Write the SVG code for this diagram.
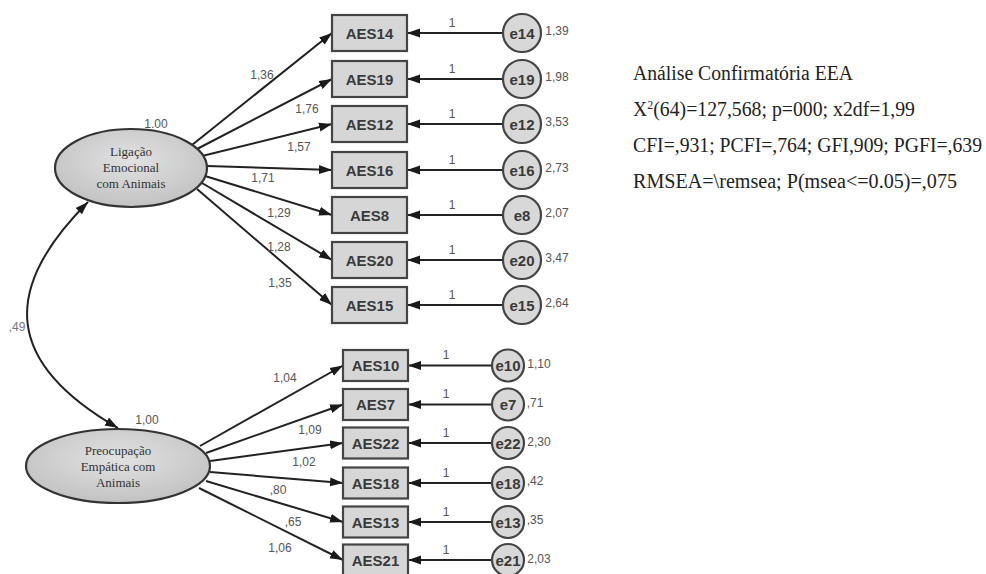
<svg xmlns="http://www.w3.org/2000/svg" width="986" height="574" viewBox="0 0 986 574">
<defs>
<marker id="ah" markerUnits="userSpaceOnUse" markerWidth="14" markerHeight="10" refX="13" refY="5" orient="auto-start-reverse" viewBox="0 0 14 10">
<path d="M0,0.5 L13,5 L0,9.5 z" fill="#1a1a1a"/>
</marker>
<radialGradient id="lg" cx="50%" cy="40%" r="60%">
<stop offset="0" stop-color="#e2e2e2"/>
<stop offset="1" stop-color="#c2c2c2"/>
</radialGradient>
<style>
.c{stroke:#222;stroke-width:2;fill:none;marker-end:url(#ah)}
.box{fill:#d6d6d6;stroke:#444;stroke-width:2.2}
.bt{font-family:"Liberation Sans",Arial,sans-serif;font-weight:bold;font-size:15px;fill:#3a3a3a;text-anchor:middle}
.err{fill:#d8d8d8;stroke:#444;stroke-width:2.2}
.et{font-family:"Liberation Sans",Arial,sans-serif;font-weight:bold;font-size:15px;fill:#3a3a3a;text-anchor:middle}
.lat{fill:url(#lg);stroke:#333;stroke-width:2.2}
.lt{font-family:"Liberation Serif","Times New Roman",serif;font-size:13px;fill:#333;text-anchor:middle}
.lab{font-family:"Liberation Sans",Arial,sans-serif;font-size:12px;fill:#555;text-anchor:middle}
.st{font-family:"Liberation Serif","Times New Roman",serif;font-size:20px;fill:#222}
</style>
</defs>
<rect width="986" height="574" fill="#fff"/>

<g id="connectors">
<!-- loadings factor 1 -->
<line class="c" x1="192" y1="145" x2="332" y2="33"/>
<line class="c" x1="197" y1="149" x2="332" y2="79"/>
<line class="c" x1="202" y1="156" x2="332" y2="124"/>
<line class="c" x1="207" y1="166" x2="332" y2="170"/>
<line class="c" x1="205" y1="176" x2="332" y2="215"/>
<line class="c" x1="202" y1="183" x2="332" y2="260"/>
<line class="c" x1="197" y1="189" x2="332" y2="305"/>
<!-- loadings factor 2 -->
<line class="c" x1="200" y1="446" x2="343" y2="365.5"/>
<line class="c" x1="206" y1="453" x2="343" y2="404.5"/>
<line class="c" x1="210" y1="461" x2="343" y2="443"/>
<line class="c" x1="210" y1="472" x2="343" y2="483"/>
<line class="c" x1="206" y1="481" x2="343" y2="522"/>
<line class="c" x1="199" y1="488" x2="343" y2="560"/>
<!-- error paths upper -->
<line class="c" x1="503" y1="33" x2="407" y2="33"/>
<line class="c" x1="503" y1="79" x2="407" y2="79"/>
<line class="c" x1="503" y1="124" x2="407" y2="124"/>
<line class="c" x1="503" y1="170" x2="407" y2="170"/>
<line class="c" x1="503" y1="215" x2="407" y2="215"/>
<line class="c" x1="503" y1="260" x2="407" y2="260"/>
<line class="c" x1="503" y1="305" x2="407" y2="305"/>
<!-- error paths lower -->
<line class="c" x1="492" y1="365.5" x2="408" y2="365.5"/>
<line class="c" x1="492" y1="404.5" x2="408" y2="404.5"/>
<line class="c" x1="492" y1="443" x2="408" y2="443"/>
<line class="c" x1="492" y1="483" x2="408" y2="483"/>
<line class="c" x1="492" y1="522" x2="408" y2="522"/>
<line class="c" x1="492" y1="560" x2="408" y2="560"/>
<!-- covariance -->
<path class="c" style="marker-start:url(#ah)" d="M88,202 C0,290 5,363 118,428"/>

<!-- labels -->
<g class="lab">
<text x="262" y="79">1,36</text>
<text x="307" y="113">1,76</text>
<text x="299" y="151">1,57</text>
<text x="263" y="182">1,71</text>
<text x="279" y="217">1,29</text>
<text x="279" y="251">1,28</text>
<text x="280" y="287">1,35</text>
<text x="156" y="128">1.00</text>
<text x="285" y="382">1,04</text>
<text x="310" y="434">1,09</text>
<text x="304" y="466">1,02</text>
<text x="278" y="494">,80</text>
<text x="293" y="526">,65</text>
<text x="280" y="552">1,06</text>
<text x="147" y="424">1,00</text>
<text x="17" y="331" fill="#777">,49</text>
<text x="452" y="27">1</text>
<text x="452" y="73">1</text>
<text x="452" y="118">1</text>
<text x="452" y="164">1</text>
<text x="452" y="209">1</text>
<text x="452" y="254">1</text>
<text x="452" y="299">1</text>
<text x="446" y="359">1</text>
<text x="446" y="398">1</text>
<text x="446" y="437">1</text>
<text x="446" y="477">1</text>
<text x="446" y="516">1</text>
<text x="446" y="554">1</text>
<text x="557" y="35">1,39</text>
<text x="557" y="81">1,98</text>
<text x="557" y="126">3,53</text>
<text x="557" y="172">2,73</text>
<text x="557" y="217">2,07</text>
<text x="557" y="262">3,47</text>
<text x="557" y="307">2,64</text>
<text x="539" y="368">1,10</text>
<text x="535" y="407">,71</text>
<text x="539" y="446">2,30</text>
<text x="535" y="485">,42</text>
<text x="535" y="524">,35</text>
<text x="539" y="563">2,03</text>
</g>
</g>

<g id="F1"><ellipse class="lat" cx="131" cy="168" rx="76" ry="39"/>
<text class="lt" x="131" y="156">Ligação</text><text class="lt" x="131" y="172">Emocional</text><text class="lt" x="131" y="188">com Animais</text></g>
<g id="F2"><ellipse class="lat" cx="118" cy="466" rx="92" ry="37"/>
<text class="lt" x="118" y="455">Preocupação</text><text class="lt" x="118" y="471">Empática com</text><text class="lt" x="118" y="487">Animais</text></g>

<g id="AES14"><rect class="box" x="332" y="15" width="75" height="36"/><text class="bt" x="369.5" y="38.5">AES14</text></g>
<g id="AES19"><rect class="box" x="332" y="61" width="75" height="36"/><text class="bt" x="369.5" y="84.5">AES19</text></g>
<g id="AES12"><rect class="box" x="332" y="106" width="75" height="36"/><text class="bt" x="369.5" y="129.5">AES12</text></g>
<g id="AES16"><rect class="box" x="332" y="152" width="75" height="36"/><text class="bt" x="369.5" y="175.5">AES16</text></g>
<g id="AES8"><rect class="box" x="332" y="197" width="75" height="36"/><text class="bt" x="369.5" y="220.5">AES8</text></g>
<g id="AES20"><rect class="box" x="332" y="242" width="75" height="36"/><text class="bt" x="369.5" y="265.5">AES20</text></g>
<g id="AES15"><rect class="box" x="332" y="287" width="75" height="36"/><text class="bt" x="369.5" y="310.5">AES15</text></g>

<g id="AES10"><rect class="box" x="343" y="350" width="65" height="31"/><text class="bt" x="375.5" y="371">AES10</text></g>
<g id="AES7"><rect class="box" x="343" y="389" width="65" height="31"/><text class="bt" x="375.5" y="410">AES7</text></g>
<g id="AES22"><rect class="box" x="343" y="427.5" width="65" height="31"/><text class="bt" x="375.5" y="448.5">AES22</text></g>
<g id="AES18"><rect class="box" x="343" y="467.5" width="65" height="31"/><text class="bt" x="375.5" y="488.5">AES18</text></g>
<g id="AES13"><rect class="box" x="343" y="506.5" width="65" height="31"/><text class="bt" x="375.5" y="527.5">AES13</text></g>
<g id="AES21"><rect class="box" x="343" y="544.5" width="65" height="31"/><text class="bt" x="375.5" y="565.5">AES21</text></g>

<g id="e14"><circle class="err" cx="522" cy="33" r="19"/><text class="et" x="522" y="38.5">e14</text></g>
<g id="e19"><circle class="err" cx="522" cy="79" r="19"/><text class="et" x="522" y="84.5">e19</text></g>
<g id="e12"><circle class="err" cx="522" cy="124" r="19"/><text class="et" x="522" y="129.5">e12</text></g>
<g id="e16"><circle class="err" cx="522" cy="170" r="19"/><text class="et" x="522" y="175.5">e16</text></g>
<g id="e8"><circle class="err" cx="522" cy="215" r="19"/><text class="et" x="522" y="220.5">e8</text></g>
<g id="e20"><circle class="err" cx="522" cy="260" r="19"/><text class="et" x="522" y="265.5">e20</text></g>
<g id="e15"><circle class="err" cx="522" cy="305" r="19"/><text class="et" x="522" y="310.5">e15</text></g>

<g id="e10"><circle class="err" cx="508" cy="365.5" r="16"/><text class="et" x="508" y="371">e10</text></g>
<g id="e7"><circle class="err" cx="508" cy="404.5" r="16"/><text class="et" x="508" y="410">e7</text></g>
<g id="e22"><circle class="err" cx="508" cy="443" r="16"/><text class="et" x="508" y="448.5">e22</text></g>
<g id="e18"><circle class="err" cx="508" cy="483" r="16"/><text class="et" x="508" y="488.5">e18</text></g>
<g id="e13"><circle class="err" cx="508" cy="522" r="16"/><text class="et" x="508" y="527.5">e13</text></g>
<g id="e21"><circle class="err" cx="508" cy="560" r="16"/><text class="et" x="508" y="565.5">e21</text></g>

<g id="stats">
<text class="st" x="633" y="80" textLength="220" lengthAdjust="spacingAndGlyphs">Análise Confirmatória EEA</text>
<text class="st" x="633" y="116" textLength="282" lengthAdjust="spacingAndGlyphs">X<tspan dy="-7" font-size="12">2</tspan><tspan dy="7">(64)=127,568; p=000; x2df=1,99</tspan></text>
<text class="st" x="633" y="152" textLength="349" lengthAdjust="spacingAndGlyphs">CFI=,931; PCFI=,764; GFI,909; PGFI=,639</text>
<text class="st" x="633" y="188" textLength="324" lengthAdjust="spacingAndGlyphs">RMSEA=\remsea; P(msea&lt;=0.05)=,075</text>
</g>
</svg>
